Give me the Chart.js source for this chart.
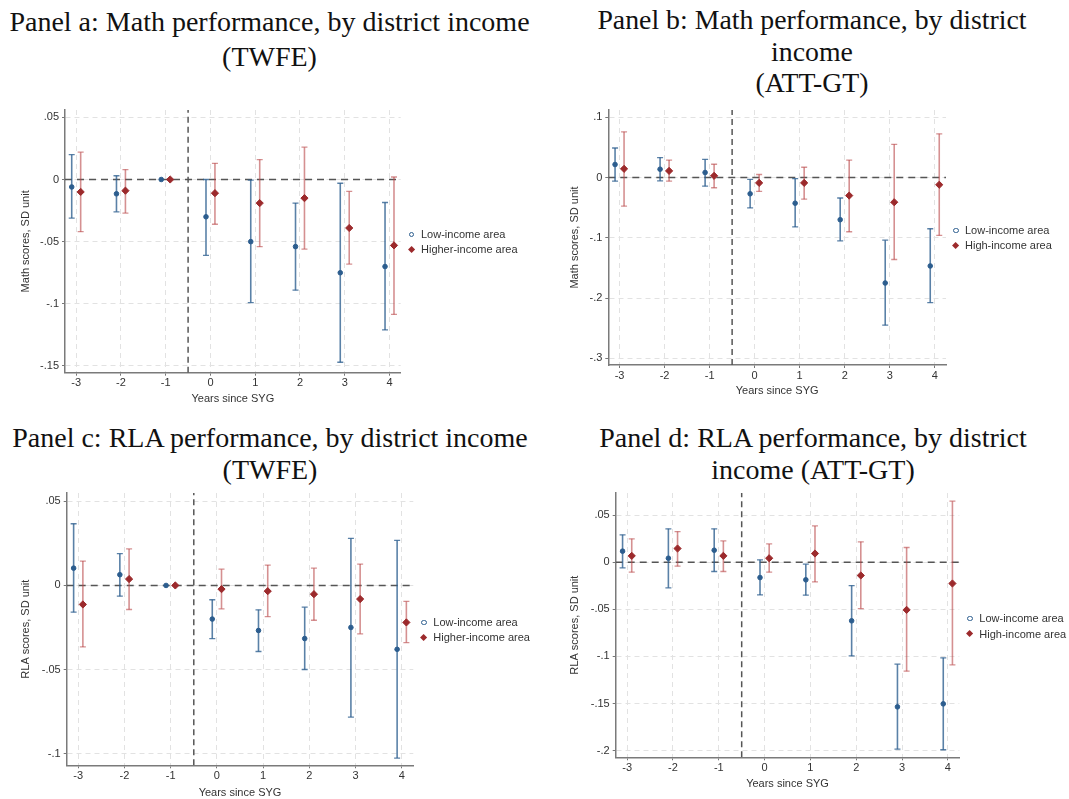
<!DOCTYPE html>
<html><head><meta charset="utf-8">
<script src="https://cdn.jsdelivr.net/npm/chart.js@4.4.1/dist/chart.umd.min.js"></script>
<style>
html,body{margin:0;padding:0;background:#fff}
body{width:1069px;height:799px;position:relative;overflow:hidden;font-family:"Liberation Sans",Arial,sans-serif}
.title{position:absolute;font-family:"Liberation Serif","Times New Roman",serif;color:#111;text-align:center;white-space:nowrap;width:640px}
canvas{position:absolute}
.leg{position:absolute;font-size:11px;color:#333;line-height:15px;height:15px;white-space:nowrap}
.mk{position:absolute;box-sizing:border-box}
</style>
</head><body>
<div class="title" id="ta" style="left:-50.5px;top:5px;font-size:28px;line-height:34.5px">Panel a: Math performance, by district income<br>(TWFE)</div>
<div class="title" id="tb" style="left:492px;top:4px;font-size:27.8px;line-height:31.5px">Panel b: Math performance, by district<br>income<br>(ATT-GT)</div>
<div class="title" id="tc" style="left:-50px;top:422px;font-size:28px;line-height:32px">Panel c: RLA performance, by district income<br>(TWFE)</div>
<div class="title" id="td" style="left:493px;top:422px;font-size:28px;line-height:32px">Panel d: RLA performance, by district<br>income (ATT-GT)</div>
<canvas id="ca"></canvas><canvas id="cb"></canvas><canvas id="cc"></canvas><canvas id="cd"></canvas>
<div id="legends"></div>
<script>
// ---------- data ----------
const years = [-3, -2, -1, 0, 1, 2, 3, 4];
const treatLine = -0.5;
const zeroLine = 0;

// Panel a: Math, TWFE
const lowA_est  = [-0.006, -0.0115, 0, -0.030, -0.050, -0.054, -0.075, -0.070];
const lowA_lo   = [-0.031, -0.026, null, -0.061, -0.099, -0.089, -0.147, -0.121];
const lowA_hi   = [0.020, 0.003, null, 0.000, -0.0005, -0.019, -0.003, -0.0185];
const highA_est = [-0.010, -0.009, 0, -0.011, -0.019, -0.015, -0.039, -0.053];
const highA_lo  = [-0.042, -0.027, null, -0.036, -0.054, -0.056, -0.068, -0.1085];
const highA_hi  = [0.022, 0.008, null, 0.013, 0.016, 0.026, -0.0096, 0.002];

// Panel b: Math, ATT-GT
const lowB_est  = [0.0216, 0.0138, 0.0083, -0.027, -0.0426, -0.070, -0.175, -0.1467];
const lowB_lo   = [-0.006, -0.0055, -0.0144, -0.0504, -0.082, -0.105, -0.245, -0.2075];
const lowB_hi   = [0.049, 0.033, 0.030, -0.003, -0.002, -0.034, -0.104, -0.085];
const highB_est = [0.0144, 0.011, 0.0028, -0.0089, -0.0089, -0.030, -0.041, -0.012];
const highB_lo  = [-0.0476, -0.006, -0.017, -0.023, -0.036, -0.090, -0.136, -0.096];
const highB_hi  = [0.0758, 0.029, 0.022, 0.005, 0.017, 0.029, 0.055, 0.0725];

// Panel c: RLA, TWFE
const lowC_est  = [0.0103, 0.0064, 0, -0.020, -0.0268, -0.0316, -0.025, -0.038];
const lowC_lo   = [-0.0159, -0.0064, null, -0.0316, -0.0393, -0.050, -0.0783, -0.1027];
const lowC_hi   = [0.0367, 0.0189, null, -0.0085, -0.0145, -0.0129, 0.028, 0.0268];
const highC_est = [-0.0113, 0.0038, 0, -0.0022, -0.0034, -0.0052, -0.0081, -0.022];
const highC_lo  = [-0.0366, -0.0143, null, -0.0139, -0.0185, -0.0207, -0.0288, -0.034];
const highC_hi  = [0.0145, 0.0217, null, 0.0097, 0.0121, 0.0103, 0.0127, -0.0095];

// Panel d: RLA, ATT-GT
const lowD_est  = [0.0117, 0.0042, 0.0127, -0.0163, -0.0187, -0.0622, -0.1535, -0.1503];
const lowD_lo   = [-0.006, -0.0272, -0.0099, -0.0347, -0.035, -0.0994, -0.1984, -0.199];
const lowD_hi   = [0.029, 0.0354, 0.0354, 0.0025, -0.0021, -0.0248, -0.1082, -0.1015];
const highD_est = [0.0067, 0.0145, 0.0067, 0.0042, 0.0092, -0.0141, -0.0506, -0.0226];
const highD_lo  = [-0.0106, -0.0042, -0.0099, -0.0106, -0.0209, -0.0492, -0.1156, -0.1089];
const highD_hi  = [0.0248, 0.0325, 0.0226, 0.0194, 0.0385, 0.0216, 0.0156, 0.0647];

const yTicksA = [0.05, 0, -0.05, -0.1, -0.15];
const yTicksB = [0.1, 0, -0.1, -0.2, -0.3];
const yTicksC = [0.05, 0, -0.05, -0.1];
const yTicksD = [0.05, 0, -0.05, -0.1, -0.15, -0.2];

const xTitle = 'Years since SYG';
const yTitleMath = 'Math scores, SD unit';
const yTitleRLA = 'RLA scores, SD unit';
const lowLabel = 'Low-income area';
const highLabelTWFE = 'Higher-income area';
const highLabelATT = 'High-income area';

// ---------- style ----------
const LOW = '#2c5d8e', LOW_CI = 'rgba(44,93,142,0.78)';
const HIGH = '#9c2a2c', HIGH_CI = 'rgba(185,70,72,0.6)';
const REF = '#555';
const dx = 0.1;
const FONT = '"Liberation Sans", Arial, sans-serif';

const panels = [
  {id:'ca', g:{left:0, top:100, w:430, h:310, padT:10, padR:29.3, yW:65, xH:37.3, ytPad:19, xtPad:4},
   xMin:-3.25, xMax:4.25, yMin:-0.1554, yMax:0.0559, yTicks:yTicksA, yTitle:yTitleMath,
   low:[lowA_est, lowA_lo, lowA_hi], high:[highA_est, highA_lo, highA_hi],
   leg:{mx:411.7, my1:234.7, my2:249.3, tx:421, high:highLabelTWFE}},
  {id:'cb', g:{left:560, top:100, w:400, h:305, padT:10, padR:14, yW:48.3, xH:40, ytPad:8, xtPad:7.3},
   xMin:-3.25, xMax:4.25, yMin:-0.311, yMax:0.112, yTicks:yTicksB, yTitle:yTitleMath,
   low:[lowB_est, lowB_lo, lowB_hi], high:[highB_est, highB_lo, highB_hi],
   leg:{mx:956, my1:230.3, my2:245.3, tx:965, high:highLabelATT}},
  {id:'cc', g:{left:0, top:485, w:430, h:315, padT:8, padR:16.7, yW:66.7, xH:34.7, ytPad:19, xtPad:0.7},
   xMin:-3.25, xMax:4.25, yMin:-0.107, yMax:0.055, yTicks:yTicksC, yTitle:yTitleRLA,
   low:[lowC_est, lowC_lo, lowC_hi], high:[highC_est, highC_lo, highC_hi],
   leg:{mx:424, my1:622.3, my2:637.7, tx:433.3, high:highLabelTWFE}},
  {id:'cd', g:{left:560, top:485, w:410, h:315, padT:8, padR:10.7, yW:55.7, xH:42.7, ytPad:8, xtPad:9},
   xMin:-3.25, xMax:4.25, yMin:-0.207, yMax:0.0734, yTicks:yTicksD, yTitle:yTitleRLA,
   low:[lowD_est, lowD_lo, lowD_hi], high:[highD_est, highD_lo, highD_hi],
   leg:{mx:970, my1:618.7, my2:634, tx:979.3, high:highLabelATT}}
];

function fmtY(v){
  if (Math.abs(v) < 1e-9) return '0';
  const s = String(Math.round(v*1000)/1000);
  return s.replace(/^(-?)0\./, '$1.');
}
const pts = (est, off) => years.map((yr,i) => ({x: yr+off, y: est[i]}));
const whisk = (lo, hi, off) => years.flatMap((yr,i) => lo[i]==null ? [] :
  [{x: yr+off, y: lo[i]}, {x: yr+off, y: hi[i]}, {x: yr+off, y: null}]);
const caps = (lo, hi, off) => years.flatMap((yr,i) => lo[i]==null ? [] :
  [{x: yr+off, y: lo[i]}, {x: yr+off, y: hi[i]}]);

panels.forEach(p => {
  const g = p.g;
  const cv = document.getElementById(p.id);
  cv.width = g.w; cv.height = g.h;
  cv.style.width = g.w+'px'; cv.style.height = g.h+'px';
  cv.style.left = g.left+'px'; cv.style.top = g.top+'px';
  const datasets = [
    {data: pts(p.low[0], -dx), showLine:false, pointStyle:'circle', pointRadius:2.3,
     pointBackgroundColor:LOW, pointBorderColor:LOW, pointBorderWidth:1, order:0},
    {data: pts(p.high[0], dx), showLine:false, pointStyle:'rectRot', pointRadius:3.6,
     pointBackgroundColor:HIGH, pointBorderColor:HIGH, pointBorderWidth:1, order:0},
    {data: caps(p.low[1], p.low[2], -dx), showLine:false, pointStyle:'line', pointRadius:3,
     pointBorderColor:LOW_CI, pointBorderWidth:1.3, order:1},
    {data: caps(p.high[1], p.high[2], dx), showLine:false, pointStyle:'line', pointRadius:3,
     pointBorderColor:HIGH_CI, pointBorderWidth:1.3, order:1},
    {data: whisk(p.low[1], p.low[2], -dx), borderColor:LOW_CI, borderWidth:1.6, pointRadius:0, spanGaps:false, order:2},
    {data: whisk(p.high[1], p.high[2], dx), borderColor:HIGH_CI, borderWidth:1.6, pointRadius:0, spanGaps:false, order:2},
    {data: [{x:p.xMin, y:zeroLine}, {x:p.xMax, y:zeroLine}], borderColor:REF, borderWidth:1.5,
     borderDash:[7,5], pointRadius:0, order:3},
    {data: [{x:treatLine, y:p.yMin}, {x:treatLine, y:p.yMax}], borderColor:REF, borderWidth:1.5,
     borderDash:[6,4], pointRadius:0, order:3}
  ];
  new Chart(cv, {
    type: 'line',
    data: {datasets},
    options: {
      responsive:false, animation:false, devicePixelRatio:1,
      layout: {padding: {top:g.padT, right:g.padR, left:0, bottom:0}},
      plugins: {legend:{display:false}, tooltip:{enabled:false}},
      elements: {line:{tension:0}},
      scales: {
        x: {
          type:'linear', min:p.xMin, max:p.xMax,
          afterBuildTicks: s => { s.ticks = years.map(v => ({value:v})); },
          afterFit: s => { s.height = g.xH; s.paddingLeft = 0; s.paddingRight = 0; },
          grid: {color:'#e2e2e2', lineWidth:1, tickLength:3, tickColor:'#777', tickWidth:1, tickBorderDash:[]},
          border: {display:true, color:'#7a7a7a', width:1.5, dash:[5,4]},
          ticks: {color:'#333', font:{family:FONT, size:11}, padding:1, maxRotation:0, autoSkip:false,
                  callback: v => String(v)},
          title: {display:true, text:xTitle, color:'#333', font:{family:FONT, size:11}, padding:{top:0, bottom:g.xtPad}}
        },
        y: {
          type:'linear', min:p.yMin, max:p.yMax,
          afterBuildTicks: s => { s.ticks = p.yTicks.map(v => ({value:v})); },
          afterFit: s => { s.width = g.yW; s.paddingTop = 0; s.paddingBottom = 0; },
          grid: {color:'#e2e2e2', lineWidth:1, tickLength:3, tickColor:'#777', tickWidth:1, tickBorderDash:[]},
          border: {display:true, color:'#7a7a7a', width:1.5, dash:[5,4]},
          ticks: {color:'#333', font:{family:FONT, size:11}, padding:3, autoSkip:false, callback: v => fmtY(v)},
          title: {display:true, text:p.yTitle, color:'#333', font:{family:FONT, size:11}, padding:{top:g.ytPad, bottom:0}}
        }
      }
    }
  });

  // legend (HTML text)
  const L = p.leg, host = document.getElementById('legends');
  const addItem = (my, label, low) => {
    const m = document.createElement('div');
    m.className = 'mk';
    if (low) {
      m.style.cssText = `left:${L.mx-2.6}px;top:${my-2.6}px;width:5.2px;height:5.2px;border:1.2px solid ${LOW};border-radius:50%;`;
    } else {
      m.style.cssText = `left:${L.mx-2.6}px;top:${my-2.6}px;width:5.2px;height:5.2px;background:${HIGH};transform:rotate(45deg);`;
    }
    host.appendChild(m);
    const t = document.createElement('div');
    t.className = 'leg';
    t.style.left = L.tx+'px'; t.style.top = (my-7.5)+'px';
    t.textContent = label;
    host.appendChild(t);
  };
  addItem(L.my1, lowLabel, true);
  addItem(L.my2, L.high, false);
});
</script>
</body></html>
